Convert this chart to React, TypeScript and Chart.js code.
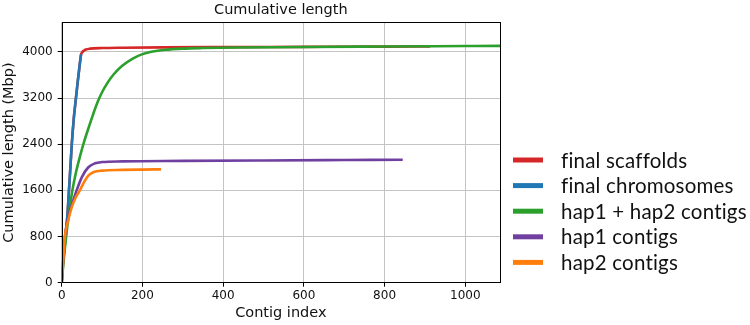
import React, { useEffect, useRef } from "react";
import { Chart, registerables } from "chart.js";

Chart.register(...registerables);

const chartTitle = "Cumulative length";
const xAxisTitle = "Contig index";
const yAxisTitle = "Cumulative length (Mbp)";

const xTicks = [0, 200, 400, 600, 800, 1000];
const yTicks = [0, 800, 1600, 2400, 3200, 4000];
const xMax = 1086;
const yMax = 4510;

const seriesLabels = [
  "final scaffolds",
  "final chromosomes",
  "hap1 + hap2 contigs",
  "hap1 contigs",
  "hap2 contigs",
];

const scaffoldsIdx = [0, 2, 5, 10, 15, 18, 20, 25, 30, 35, 40, 45, 48, 50, 55, 60, 70, 100, 150, 250, 400, 600, 800, 913];
const scaffoldsLen = [0, 250, 470, 820, 1250, 1600, 1820, 2400, 2850, 3180, 3500, 3800, 3955, 3985, 4020, 4040, 4055, 4066, 4072, 4078, 4082, 4086, 4090, 4093];

const chromosomesIdx = [0, 2, 5, 10, 15, 18, 20, 25, 30, 35, 40, 45, 48];
const chromosomesLen = [0, 250, 470, 820, 1250, 1600, 1820, 2400, 2850, 3180, 3500, 3800, 3955];

const hapBothIdx = [0, 5, 11, 18, 26, 35, 45, 55, 65, 77, 89, 100, 115, 130, 150, 175, 200, 222, 256, 300, 350, 450, 600, 800, 1000, 1090];
const hapBothLen = [0, 400, 800, 1200, 1580, 1900, 2180, 2430, 2650, 2900, 3130, 3300, 3480, 3620, 3760, 3880, 3960, 4000, 4035, 4056, 4066, 4076, 4085, 4093, 4100, 4103];

const hap1Idx = [0, 3, 8, 15, 25, 37, 50, 66, 83, 100, 150, 300, 500, 700, 845];
const hap1Len = [0, 300, 800, 1100, 1350, 1600, 1830, 2000, 2070, 2090, 2102, 2110, 2118, 2125, 2130];

const hap2Idx = [0, 3, 8, 15, 25, 35, 45, 55, 66, 80, 100, 150, 200, 246];
const hap2Len = [0, 300, 800, 1050, 1310, 1480, 1600, 1740, 1857, 1918, 1942, 1954, 1960, 1964];

const seriesIdx = [scaffoldsIdx, chromosomesIdx, hapBothIdx, hap1Idx, hap2Idx];
const seriesLen = [scaffoldsLen, chromosomesLen, hapBothLen, hap1Len, hap2Len];

const seriesColors = ["#d62728", "#1f77b4", "#2ca02c", "#7040a0", "#ff7f0e"];

const framePlugin = {
  id: "frame",
  afterDatasetsDraw(chart: any) {
    const { ctx, chartArea } = chart;
    ctx.save();
    ctx.strokeStyle = "#000";
    ctx.lineWidth = 1;
    ctx.strokeRect(
      Math.round(chartArea.left) + 0.5,
      Math.round(chartArea.top) + 0.5,
      Math.round(chartArea.right - chartArea.left),
      Math.round(chartArea.bottom - chartArea.top)
    );
    ctx.restore();
  },
};

const legendPlugin = {
  id: "customLegend",
  afterDraw(chart: any) {
    const { ctx } = chart;
    const datasets = chart.data.datasets;
    ctx.save();
    ctx.font = "20.5px Lato";
    try {
      (ctx as any).letterSpacing = "0.2px";
    } catch (e) {}
    ctx.textBaseline = "middle";
    ctx.textAlign = "left";
    datasets.forEach((ds: any, i: number) => {
      const y = 160 + i * 25.6;
      ctx.strokeStyle = ds.borderColor;
      ctx.lineWidth = 5;
      ctx.lineCap = "butt";
      ctx.beginPath();
      ctx.moveTo(513, y);
      ctx.lineTo(543, y);
      ctx.stroke();
      ctx.fillStyle = "#111";
      ctx.fillText(ds.label, 561, y + 1);
    });
    ctx.restore();
  },
};

export default function App() {
  const canvasRef = useRef<HTMLCanvasElement | null>(null);

  useEffect(() => {
    if (!canvasRef.current) return;
    const datasets = seriesLabels.map((label, i) => ({
      label,
      data: seriesIdx[i].map((x, j) => ({ x, y: seriesLen[i][j] })),
      borderColor: seriesColors[i],
      backgroundColor: seriesColors[i],
      borderWidth: 2.6,
      pointRadius: 0,
      fill: false,
      cubicInterpolationMode: "monotone" as const,
      order: seriesLabels.length - i,
    }));

    const tickFont = { family: "DejaVu Sans", size: 12 };
    const titleFont = { family: "DejaVu Sans", size: 14.5 };

    const chart = new Chart(canvasRef.current, {
      type: "line",
      data: { datasets },
      plugins: [framePlugin, legendPlugin],
      options: {
        animation: false,
        responsive: false,
        layout: { padding: { left: 0, right: 250, top: 0, bottom: 0 } },
        plugins: {
          legend: { display: false },
          tooltip: { enabled: false },
          title: {
            display: true,
            text: chartTitle,
            fullSize: false,
            color: "#111",
            font: { ...titleFont, weight: "normal" },
            padding: { top: 2, bottom: 3 },
          },
        },
        scales: {
          x: {
            type: "linear",
            min: 0,
            max: xMax,
            afterBuildTicks: (scale: any) => {
              scale.ticks = xTicks.map((v) => ({ value: v }));
            },
            afterFit: (scale: any) => {
              scale.height = 42.3;
            },
            grid: {
              color: "#c4c4c4",
              lineWidth: 1,
              tickColor: "#000",
              tickLength: 4,
              drawTicks: true,
            },
            border: { display: false },
            ticks: {
              color: "#111",
              font: tickFont,
              padding: 2,
              maxRotation: 0,
              callback: (v: any) => String(v),
            },
            title: {
              display: true,
              text: xAxisTitle,
              color: "#111",
              font: titleFont,
              padding: { top: 0, bottom: 3 },
            },
          },
          y: {
            type: "linear",
            min: 0,
            max: yMax,
            afterBuildTicks: (scale: any) => {
              scale.ticks = yTicks.map((v) => ({ value: v }));
            },
            afterFit: (scale: any) => {
              scale.width = 61.7;
            },
            grid: {
              color: "#c4c4c4",
              lineWidth: 1,
              tickColor: "#000",
              tickLength: 4,
              drawTicks: true,
            },
            border: { display: false },
            ticks: {
              color: "#111",
              font: tickFont,
              padding: 5,
              callback: (v: any) => String(v),
            },
            title: {
              display: true,
              text: yAxisTitle,
              color: "#111",
              font: titleFont,
              padding: { top: 1, bottom: 0 },
            },
          },
        },
      },
    });
    return () => chart.destroy();
  }, []);

  return (
    <div style={{ position: "absolute", left: 0, top: 0, width: 750, height: 325, background: "#fff" }}>
      <canvas ref={canvasRef} width={750} height={325} style={{ display: "block" }} />
    </div>
  );
}
